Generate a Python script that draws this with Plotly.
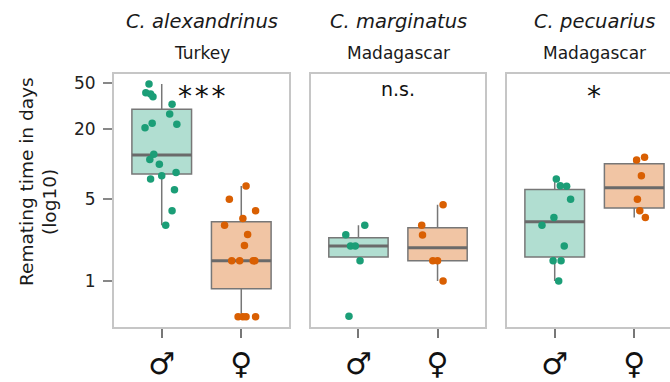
import plotly.graph_objects as go

# ---------------- data ----------------
species = ["C. alexandrinus", "C. marginatus", "C. pecuarius"]
countries = ["Turkey", "Madagascar", "Madagascar"]
signif = ["*\u200a*\u200a*", "n.s.", "*"]
sex_labels = ["♂", "♀"]
y_tick_vals = [1, 5, 20, 50]
y_title = ["Remating time in days", "(log10)"]

# remating time (days) per panel, per sex (male, female)
alex_male = [48.8, 41.1, 40.0, 37.9, 32.7, 27.0, 22.5, 22.0, 20.6, 12.2, 11.0, 10.0, 8.5, 8.0, 7.5, 6.06, 4.0, 3.0]
alex_male_jit = [-0.16, -0.20, -0.14, -0.11, 0.13, 0.10, -0.12, 0.19, -0.21, -0.10, -0.15, -0.03, 0.18, 0.0, -0.14, 0.16, 0.13, 0.05]
alex_female = [6.52, 5.01, 4.0, 3.44, 3.0, 2.51, 2.02, 1.49, 1.49, 1.49, 1.49, 0.494, 0.494, 0.494, 0.494]
alex_female_jit = [0.06, -0.15, 0.18, 0.02, -0.21, 0.08, 0.04, -0.12, -0.02, 0.15, 0.17, -0.04, 0.02, 0.06, 0.18]

marg_male = [3.0, 2.49, 2.0, 2.0, 1.49, 0.50]
marg_male_jit = [0.08, -0.16, -0.10, -0.04, 0.02, -0.12]
marg_female = [4.5, 3.0, 2.48, 1.49, 1.49, 1.0]
marg_female_jit = [0.07, -0.20, -0.19, -0.06, 0.0, 0.07]

pecu_male = [7.48, 6.56, 6.49, 5.01, 3.51, 3.0, 2.0, 1.49, 1.49, 1.0]
pecu_male_jit = [0.02, 0.07, 0.15, 0.20, -0.01, -0.16, 0.12, -0.02, 0.08, 0.05]
pecu_female = [10.9, 11.5, 8.0, 5.01, 4.0, 3.51]
pecu_female_jit = [0.03, 0.13, 0.09, 0.04, 0.07, 0.14]

# box statistics: [q1, median, q3, lower whisker, upper whisker]
alex_male_box = [8.26, 12.0, 29.6, 3.0, 48.8]
alex_female_box = [0.86, 1.49, 3.22, 0.494, 6.52]
marg_male_box = [1.61, 2.0, 2.35, 1.49, 3.0]
marg_female_box = [1.49, 1.93, 2.86, 1.0, 4.5]
pecu_male_box = [1.61, 3.22, 6.1, 1.0, 7.48]
pecu_female_box = [4.22, 6.3, 10.1, 3.51, 10.9]

panels = [
    [(alex_male, alex_male_jit, alex_male_box), (alex_female, alex_female_jit, alex_female_box)],
    [(marg_male, marg_male_jit, marg_male_box), (marg_female, marg_female_jit, marg_female_box)],
    [(pecu_male, pecu_male_jit, pecu_male_box), (pecu_female, pecu_female_jit, pecu_female_box)],
]

# ---------------- style ----------------
FONT = "DejaVu Sans"
dot_colors = ["#1b9e77", "#d95f02"]
fill_colors = ["rgba(27,158,119,0.34)", "rgba(217,95,2,0.36)"]
box_line = "#777777"
border = "#c6c6c6"
BOXW = 0.75

fig = go.Figure()
axes = ["", "2", "3"]
for p, groups in enumerate(panels):
    xa, ya = "x" + axes[p], "y" + axes[p]
    for s, (vals, jit, st) in enumerate(groups):
        fig.add_trace(go.Box(
            x=[s], q1=[st[0]], median=[st[1]], q3=[st[2]],
            lowerfence=[st[3]], upperfence=[st[4]],
            width=BOXW, fillcolor=fill_colors[s], whiskerwidth=0,
            line=dict(color=box_line, width=1.5), boxpoints=False,
            xaxis=xa, yaxis=ya, showlegend=False, hoverinfo="skip"))
        fig.add_trace(go.Scatter(
            x=[s - BOXW / 2, s + BOXW / 2], y=[st[1], st[1]], mode="lines",
            line=dict(color="#6a6a6a", width=3), xaxis=xa, yaxis=ya,
            showlegend=False, hoverinfo="skip"))
        fig.add_trace(go.Scatter(
            x=[s + j for j in jit], y=vals, mode="markers",
            marker=dict(color=dot_colors[s], size=7.5, line=dict(width=0)),
            xaxis=xa, yaxis=ya, showlegend=False))

W, H = 670, 382
L, R, T, B = 114, 0, 74, 55
pw = W - L - R
ph = H - T - B
doms = [(114, 289), (311, 485), (507, 670)]
xranges = [[-0.6, 1.6], [-0.6, 1.6], [-0.6, 1.45]]
yrange = [-0.394, 1.774]

layout = dict(
    width=W, height=H, margin=dict(l=L, r=R, t=T, b=B),
    paper_bgcolor="white", plot_bgcolor="white",
    font=dict(family=FONT, color="#1a1a1a"),
    boxmode="overlay",
)
for p in range(3):
    d0, d1 = doms[p]
    layout["xaxis" + axes[p]] = dict(
        domain=[(d0 - L) / pw, (d1 - L) / pw], range=xranges[p],
        anchor="y" + axes[p], tickvals=[0, 1], ticktext=sex_labels,
        tickfont=dict(size=30, family=FONT, color="#111", weight="bold"),
        ticks="outside", ticklen=9, tickwidth=1.5, tickcolor="#777",
        showline=True, linecolor=border, linewidth=2, mirror=True,
        showgrid=False, zeroline=False, fixedrange=True)
    layout["yaxis" + axes[p]] = dict(
        type="log", range=yrange, anchor="x" + axes[p],
        showline=True, linecolor=border, linewidth=2, mirror=(p < 2),
        showgrid=False, zeroline=False,
        tickvals=y_tick_vals if p == 0 else [],
        ticktext=[str(v) for v in y_tick_vals] if p == 0 else [],
        showticklabels=(p == 0),
        ticks="outside" if p == 0 else "", ticklen=9, tickwidth=1.5, tickcolor="#888",
        ticklabelstandoff=4,
        tickfont=dict(size=17, family=FONT, color="#222"))
fig.update_layout(**layout)


def py(px):
    return (H - B - px) / ph


ann = []
for p in range(3):
    xr = "x" + axes[p]
    ann.append(dict(x=0.5, xref=xr, y=py(21), yref="paper", text="<i>" + species[p] + "</i>",
                    showarrow=False, xanchor="center", yanchor="middle",
                    font=dict(size=19.5, family=FONT, color="#1a1a1a")))
    ann.append(dict(x=0.5, xref=xr, y=py(52.5), yref="paper", text=countries[p],
                    showarrow=False, xanchor="center", yanchor="middle",
                    font=dict(size=17, family=FONT, color="#1a1a1a")))
    is_ns = signif[p] == "n.s."
    ann.append(dict(x=0.5, xref=xr, y=py(89) if is_ns else py(96.5), yref="paper",
                    text=signif[p], showarrow=False, xanchor="center", yanchor="middle",
                    font=dict(size=19 if is_ns else 28, family=FONT, color="#111")))
for txt, cx, cy in zip(y_title, [26, 49], [182, 202]):
    ann.append(dict(x=(cx - L) / pw, xref="paper", y=py(cy), yref="paper",
                    text=txt, textangle=-90,
                    showarrow=False, xanchor="center", yanchor="middle",
                    font=dict(size=18.5, family=FONT, color="#1a1a1a")))
fig.update_layout(annotations=ann)

fig.write_html("out.html")
